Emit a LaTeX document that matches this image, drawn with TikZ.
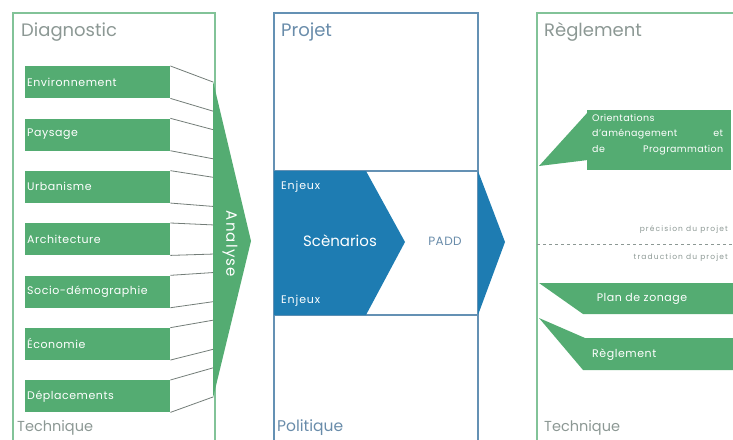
\documentclass[tikz,border=0pt]{standalone}
\usepackage{fontspec}
\setmainfont{Poppins}
\definecolor{G}{RGB}{84,172,114}
\definecolor{GL}{RGB}{130,195,152}
\definecolor{B}{RGB}{30,124,178}
\definecolor{BL}{RGB}{100,145,180}
\definecolor{TG}{RGB}{140,152,148}
\definecolor{TB}{RGB}{105,140,170}
\definecolor{CL}{RGB}{115,125,120}
\newcommand{\smallf}{\fontsize{11}{13}\selectfont\addfontfeature{LetterSpace=5}}
\begin{document}
\begin{tikzpicture}[x=1pt,y=-1pt,
  gbox/.style={fill=G,text=white,anchor=north west,minimum width=145pt,minimum height=32pt,
    text width=141pt,inner xsep=2pt,inner ysep=0pt,align=left,font=\smallf},
  conn/.style={draw=CL,line width=0.8pt},
  gpanel/.style={draw=GL,line width=1.2pt},
  bpanel/.style={draw=BL,line width=1.2pt},
  titleG/.style={text=TG,anchor=west,inner sep=0pt,font=\fontsize{18}{20}\selectfont},
  titleB/.style={text=TB,anchor=west,inner sep=0pt,font=\fontsize{18}{20}\selectfont},
  footG/.style={text=TG,anchor=west,inner sep=0pt,font=\fontsize{14.5}{16}\selectfont},
  footB/.style={text=TB,anchor=west,inner sep=0pt,font=\fontsize{15.5}{17}\selectfont},
  wtxt/.style={text=white,inner sep=0pt,font=\smallf},
  note/.style={text=TG,anchor=east,inner sep=0pt,font=\fontsize{7.5}{9}\selectfont\addfontfeature{LetterSpace=15}}]
\useasboundingbox (0,0) rectangle (733,439);
% ---------- left panel ----------
\draw[gpanel] (13,445) -- (13,13) -- (215,13) -- (215,445);
\node[titleG] (diag) at (21,32) {Diagnostic};
\node[footG] (tech1) at (17,428) {Technique};
\fill[G] (213,81) -- (251,241) -- (213,398) -- cycle;
\node[wtxt,rotate=-90,font=\fontsize{15}{17}\selectfont\addfontfeature{LetterSpace=8}] (analyse) at (230,244) {Analyse};
\foreach \i/\t in {1/Environnement,2/Paysage,3/Urbanisme,4/Architecture,5/Socio-démographie,6/Économie,7/Déplacements}{
  \node[gbox] (b\i) at (25,{66+52.33*(\i-1)}) {\t};
  \coordinate (u\i) at (213,{82+52.33*(\i-1)*0.9104});
  \coordinate (l\i) at (213,{82+(52.33*(\i-1)+32)*0.9104});
  \draw[conn] (b\i.north east) -- (u\i);
  \draw[conn] (b\i.south east) -- (l\i);
}
% ---------- middle panel ----------
\draw[bpanel] (274,445) -- (274,13) -- (478,13) -- (478,445);
\draw[bpanel] (274,171) -- (478,171);
\draw[bpanel] (274,315) -- (478,315);
\fill[B] (274,171) -- (366,171) -- (405,242) -- (366,315) -- (274,315) -- cycle;
\fill[B] (478,171) -- (505,242) -- (478,315) -- cycle;
\node[titleB] (projet) at (281,32) {Projet};
\node[footB] (polit) at (277,428) {Politique};
\node[wtxt,anchor=west,font=\fontsize{11}{13}\selectfont\addfontfeature{LetterSpace=8}] (enj1) at (281,187) {Enjeux};
\node[wtxt,anchor=west,font=\fontsize{11}{13}\selectfont\addfontfeature{LetterSpace=8}] (enj2) at (281,301) {Enjeux};
\node[wtxt,font=\fontsize{15}{17}\selectfont] (scen) at (340,241) {Scènarios};
\node[text=TB,inner sep=0pt,font=\fontsize{12}{14}\selectfont\addfontfeature{LetterSpace=4}] (padd) at (445,241) {PADD};
% ---------- right panel ----------
\draw[gpanel] (537,445) -- (537,13) -- (740,13);
\node[titleG] (regl) at (544,32) {Règlement};
\node[footG] (tech2) at (544,428) {Technique};
\fill[G] (587,110) rectangle (731,170);
\fill[G] (588,112) -- (539,166) -- (588,160) -- cycle;
\node[wtxt,anchor=north west,text width=131pt,align=left,font=\fontsize{9.5}{15.3}\selectfont\addfontfeature{LetterSpace=4}] (oap) at (592,114)
  {Orientations\\d'aménagement\hfill et\\de\hfill Programmation};
\draw[draw=TG,line width=1pt,dash pattern=on 3pt off 3pt] (537,244) -- (733,244);
\node[note] (prec) at (728,230) {précision du projet};
\node[note] (trad) at (728,258) {traduction du projet};
\fill[G] (539,283) -- (740,283) -- (740,314) -- (583,314) -- cycle;
\node[wtxt] (zon) at (642,299) {Plan de zonage};
\fill[G] (539,318) -- (585,338) -- (740,338) -- (740,370) -- (583,370) -- cycle;
\node[wtxt,anchor=west] (reg2) at (592,355) {Règlement};
\end{tikzpicture}
\end{document}
